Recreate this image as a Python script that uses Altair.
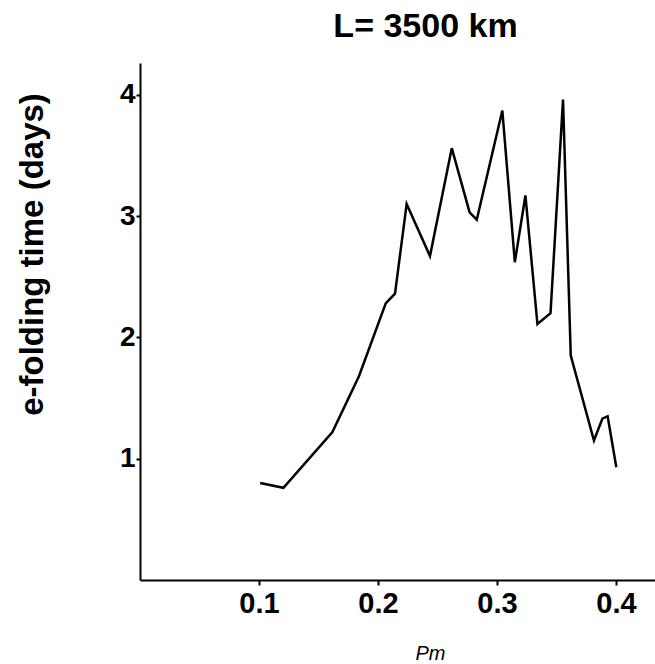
import altair as alt
import pandas as pd

pm = [0.101, 0.1205, 0.1617, 0.184, 0.2065, 0.2143, 0.2241, 0.2437, 0.262, 0.277,
      0.283, 0.3045, 0.315, 0.3239, 0.334, 0.345, 0.3555, 0.362, 0.3815, 0.3886,
      0.393, 0.4003]
efold = [0.80, 0.76, 1.22, 1.68, 2.28, 2.36, 3.10, 2.67, 3.56, 3.03,
         2.97, 3.87, 2.62, 3.17, 2.11, 2.20, 3.96, 1.85, 1.15, 1.33,
         1.35, 0.93]

x_ticks = [0.1, 0.2, 0.3, 0.4]
y_ticks = [1, 2, 3, 4]

df = pd.DataFrame({"pm": pm, "t": efold})

FONT = "Liberation Sans"

chart = alt.Chart(df).mark_line(color="black", strokeWidth=2.5).encode(
    x=alt.X("pm:Q",
            scale=alt.Scale(domain=[0.0, 0.4328], nice=False, zero=False),
            axis=alt.Axis(values=x_ticks, format=".1f", title="Pm",
                          grid=False, domainColor="black", domainWidth=2,
                          tickColor="black", tickWidth=2, tickSize=5,
                          labelPadding=4, labelFont=FONT, labelFontSize=29,
                          labelFontWeight="bold", labelColor="black",
                          titleFont=FONT, titleFontSize=20, titleFontStyle="italic",
                          titleFontWeight="normal", titleColor="black",
                          titleX=290, titleY=73, titleAlign="center",
                          titleBaseline="middle")),
    y=alt.Y("t:Q",
            scale=alt.Scale(domain=[0, 4.262], nice=False),
            axis=alt.Axis(values=y_ticks, format="d", title="e-folding time (days)",
                          grid=False, domainColor="black", domainWidth=2,
                          tickColor="black", tickWidth=2, tickSize=4,
                          labelPadding=1, labelFont=FONT, labelFontSize=28,
                          labelFontWeight="bold", labelColor="black",
                          titleFont=FONT, titleFontSize=33, titleFontWeight="bold",
                          titleColor="black", titleX=-108, titleY=191,
                          titleAlign="center", titleBaseline="middle")),
).properties(
    width=515,
    height=517,
    background="white",
    title=alt.TitleParams("L= 3500 km", font=FONT, fontSize=34, fontWeight="bold",
                          color="black", anchor="middle", frame="group",
                          dx=28, dy=34, offset=26, baseline="alphabetic"),
    autosize=alt.AutoSizeParams(type="none"),
    padding={"left": 140, "top": 63, "right": 0, "bottom": 84},
).configure_view(stroke=None, strokeWidth=0)

chart.save("out.html", embed_options={"renderer": "svg", "actions": False})
